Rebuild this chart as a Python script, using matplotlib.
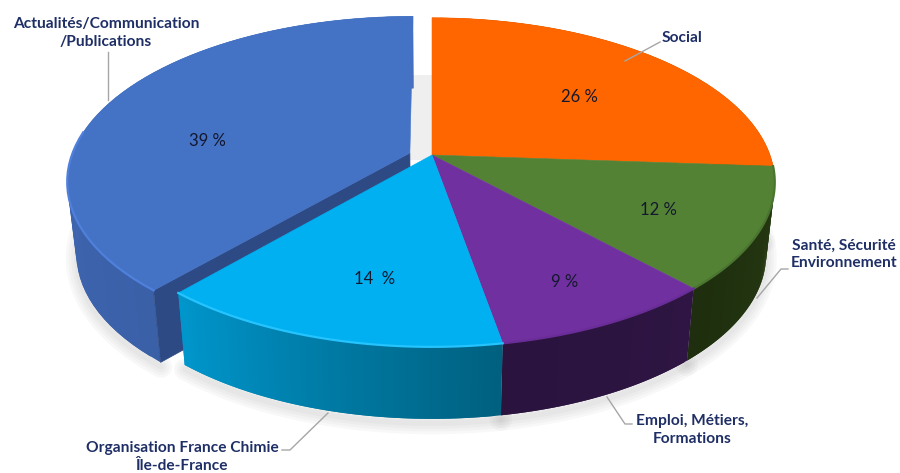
import numpy as np
import matplotlib.pyplot as plt
from matplotlib.colors import to_rgb
from matplotlib.patches import Polygon

plt.rcParams["font.family"] = ["Lato", "DejaVu Sans"]

categories = ["Social", "Santé, Sécurité\nEnvironnement", "Emploi, Métiers,\nFormations",
              "Organisation France Chimie\nÎle-de-France", "Actualités/Communication\n/Publications"]
values = [26.1, 12, 9.1, 14.2, 38.6]
value_labels = ["26 %", "12 %", "9 %", "14  %", "39 %"]
explode = [0, 0, 0, 0, 0.07]

top_colors = ["#FF6600", "#548235", "#7030A0", "#00B0F0", "#4472C4"]
rim_colors = ["#FF7A20", "#4A7530", "#6A2D98", "#25C4FF", "#4F80DC"]
wall_start = ["#B34700", "#263B12", "#2E1543", "#00607F", "#3A60A8"]
wall_end = ["#B34700", "#1E2E0E", "#2A133E", "#0096CC", "#476FBE"]

# positions of the texts, in pixels
value_xy = [(579, 97), (658, 210), (565, 282), (375, 279), (207, 141)]
label_xy = [(682, 38), (844, 254), (692, 430), (182, 457), (106, 33)]
leaders = [[(660, 42), (625, 61)], [(788, 269), (781, 269), (757, 298)], [(632, 424), (625, 424), (607, 397)],
           [(282, 450), (290, 450), (328, 413)], [(108, 52), (108, 100)]]

# perspective of the pie
cx, cy = 432, 155
rx, ry = 338, 160
persp = 0.166
wall = 72
wall_scale = 0.975


def project(u, v, z=0):
    d = 1 + persp * v
    s = 1 - (1 - wall_scale) * z
    return cx + rx * u / d * s, cy - ry * v / d + wall * z


def rim(a0, a1, off, z=0, n=60):
    a = np.radians(np.linspace(a0, a1, n))
    return project(np.sin(a) + off[0], np.cos(a) + off[1], z)


fig = plt.figure(figsize=(9, 4.73), dpi=100)
ax = fig.add_axes([0, 0, 1, 1])
ax.set_xlim(0, 900)
ax.set_ylim(473, 0)
ax.axis("off")

edges = np.cumsum([0] + values) * 3.6
offsets = []
for i in range(len(values)):
    mid = np.radians((edges[i] + edges[i + 1]) / 2)
    # the exploded slice moves mostly sideways, as in the picture
    offsets.append((explode[i] * np.sin(mid), 0.5 * explode[i] * np.cos(mid)))

# soft shadow under the pie
for i in range(len(values)):
    sx, sy = rim(edges[i], edges[i + 1], offsets[i], 1.06)
    for lw in [16, 12, 8, 4]:
        ax.plot(sx, sy, color="#888888", alpha=0.05, lw=lw, solid_capstyle="round", zorder=1)

# grey gap behind the exploded slice
ax.fill_between([410, 432], 75, 160, color="#EFEFEF", lw=0, zorder=1)

# the exploded slice first, the others stand in front of it
for i in [4, 0, 1, 2, 3]:
    off = offsets[i]
    xt, yt = rim(edges[i], edges[i + 1], off, 0)
    xb, yb = rim(edges[i], edges[i + 1], off, 1)
    c0, c1 = np.array(to_rgb(wall_start[i])), np.array(to_rgb(wall_end[i]))
    zwall = 2 if explode[i] > 0 else 3
    # overlapping bands, so no seams show between them
    for j in range(len(xt) - 1):
        k = min(j + 2, len(xt) - 1)
        col = c0 + (c1 - c0) * j / (len(xt) - 2)
        ax.add_patch(Polygon([(xt[j], yt[j]), (xt[k], yt[k]), (xb[k], yb[k]), (xb[j], yb[j])],
                             facecolor=col, edgecolor="none", zorder=zwall))
    ax_, ay_ = project(off[0], off[1], 0)
    if explode[i] > 0:
        bx_, by_ = project(off[0], off[1], 1)
        ax.add_patch(Polygon([(ax_, ay_), (xt[0], yt[0]), (xb[0], yb[0]), (bx_, by_)],
                             facecolor="#2E4A85", edgecolor="#2E4A85", lw=0.5, zorder=2.5))
    ztop = 2.7 if explode[i] > 0 else 4
    ax.add_patch(Polygon(np.column_stack([np.r_[ax_, xt], np.r_[ay_, yt]]), facecolor=top_colors[i],
                         edgecolor=top_colors[i], lw=0.4, zorder=ztop))
    # highlight along the front rim
    a = np.radians(np.linspace(edges[i], edges[i + 1], 60))
    front = np.cos(a) < 0.15
    if i != 0:
        ax.plot(xt[front], yt[front], color=rim_colors[i], lw=1.6, zorder=ztop + 0.1)

for xy, text in zip(value_xy, value_labels):
    ax.text(xy[0], xy[1], text, ha="center", va="center", fontsize=12, color="#14182E", zorder=6)

for xy, text in zip(label_xy, categories):
    ax.text(xy[0], xy[1], text, ha="center", va="center", fontsize=11.2, fontweight="bold",
            color="#1F2F66", linespacing=1.3, zorder=6)

for pts in leaders:
    ax.plot([p[0] for p in pts], [p[1] for p in pts], color="#A6A6A6", lw=1, zorder=5)

fig.savefig("out.png", dpi=100)
